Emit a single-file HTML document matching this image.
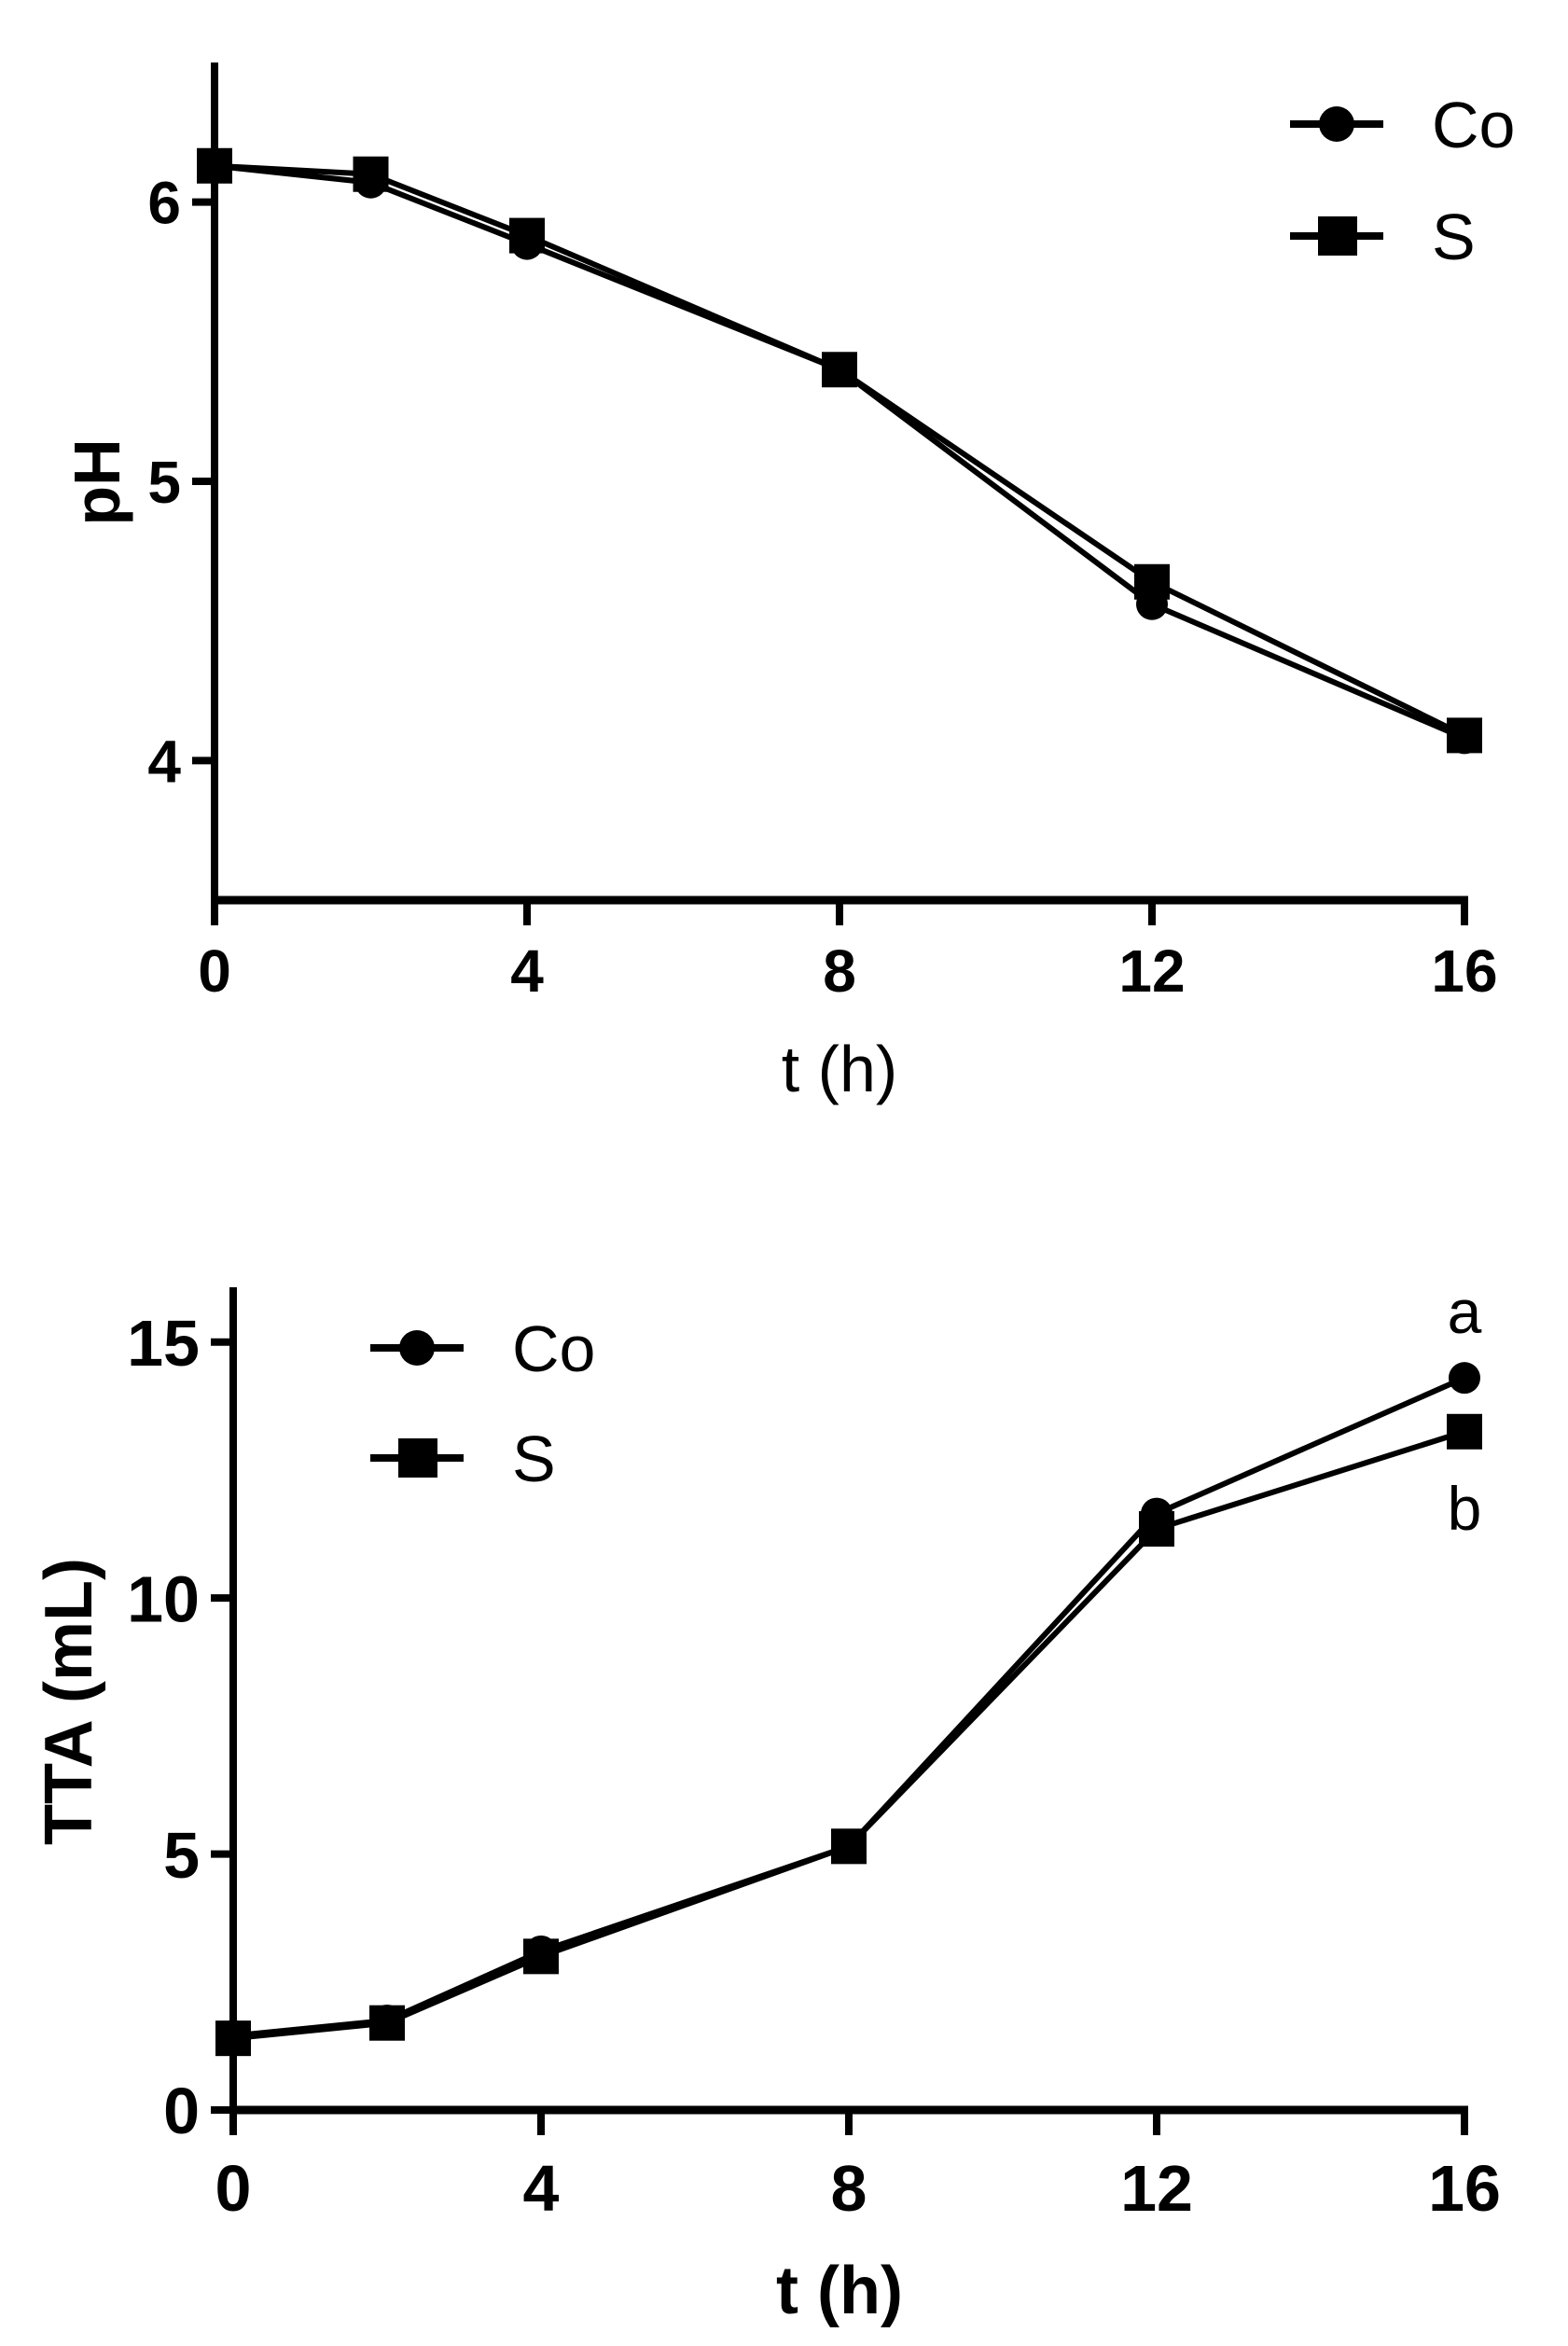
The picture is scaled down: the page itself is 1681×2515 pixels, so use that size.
<!DOCTYPE html>
<html><head><meta charset="utf-8"><style>
html,body{margin:0;padding:0;background:#fff;}
svg text{font-family:"Liberation Sans",Arial,sans-serif;fill:#000;}
</style></head><body>
<svg id="c" width="1681" height="2510" viewBox="0 0 1681 2510" xmlns="http://www.w3.org/2000/svg"></svg>
<script>
const hours = [0, 2, 4, 8, 12, 16];
const phCo = [6.13, 6.07, 5.85, 5.40, 4.56, 4.08];
const phS = [6.13, 6.10, 5.88, 5.40, 4.64, 4.09];
const phTicks = [4, 5, 6];
const ttaCo = [1.45, 1.75, 3.1, 5.15, 11.65, 14.3];
const ttaS = [1.4, 1.7, 3.0, 5.15, 11.35, 13.25];
const ttaTicks = [0, 5, 10, 15];
const xTicks = [0, 4, 8, 12, 16];

const NS = 'http://www.w3.org/2000/svg';
const svg = document.getElementById('c');
function mk(tag, attrs, parent, txt){
  const e = document.createElementNS(NS, tag);
  for (const k in attrs) e.setAttribute(k, attrs[k]);
  if (txt !== undefined) e.textContent = txt;
  (parent || svg).appendChild(e);
  return e;
}

function chart(cfg){
  const g = mk('g', {});
  
  
  const X = v => cfg.x0 + (v - 0) / 16 * (cfg.x1 - cfg.x0);
  const Y = v => cfg.yb - (v - cfg.ymin) / (cfg.ymax - cfg.ymin) * (cfg.yb - cfg.yt);
  // axes
  const ya = mk('line', {x1:cfg.x0, y1:cfg.yt, x2:cfg.x0, y2:cfg.yb+4, stroke:'#000','stroke-width':8}, g);
  
  
  const xa = mk('line', {x1:cfg.x0-4, y1:cfg.yb, x2:cfg.x1+4, y2:cfg.yb, stroke:'#000','stroke-width':9}, g);
  
  
  xTicks.forEach(t => {
    const l = mk('line', {x1:X(t), y1:cfg.yb, x2:X(t), y2:cfg.yb+27, stroke:'#000','stroke-width':8}, g);
    
    
    const tx = mk('text', {x:X(t), y:cfg.xlabY, 'text-anchor':'middle','font-size':cfg.tickFs,'font-weight':'bold'}, g, String(t));
    
    
  });
  cfg.yTicks.forEach(t => {
    const l = mk('line', {x1:cfg.x0-24, y1:Y(t), x2:cfg.x0, y2:Y(t), stroke:'#000','stroke-width':8}, g);
    
    
    const tx = mk('text', {x:cfg.x0-36, y:Y(t)+cfg.tickFs*0.36, 'text-anchor':'end','font-size':cfg.tickFs,'font-weight':'bold'}, g, String(t));
    
    
  });
  // series
  [[cfg.s2,'square','series-s'],[cfg.s1,'circle','series-co']].forEach(([vals, shape, nm]) => {
    const pts = hours.map((h,i) => X(h)+','+Y(vals[i])).join(' ');
    const pl = mk('polyline', {points:pts, fill:'none', stroke:'#000','stroke-width':6,'stroke-linejoin':'round'}, g);
    
    
    hours.forEach((h,i) => {
      let m;
      if (shape === 'circle') m = mk('circle', {cx:X(h), cy:Y(vals[i]), r:17, fill:'#000'}, g);
      else m = mk('rect', {x:X(h)-19, y:Y(vals[i])-19, width:38, height:38, fill:'#000'}, g);
      
      
    });
  });
  // labels
  const xl = mk('text', {x:cfg.xTitleX, y:cfg.xTitleY, 'text-anchor':'middle','font-size':cfg.titleFs,'font-weight':cfg.xTitleW}, g, 't (h)');
  
  
  const yl = mk('text', {x:0, y:0, 'text-anchor':'middle','font-size':cfg.titleFs,'font-weight':'bold', transform:`translate(${cfg.yTitleX},${cfg.yTitleY}) rotate(-90)`}, g, cfg.yTitle);
  
  
  // legend
  [['Co','circle',0],['S','square',1]].forEach(([lab, shape, i]) => {
    const ly = cfg.legY + i*cfg.legDy;
    const lg = mk('g', {}, g);
    
    
    mk('line', {x1:cfg.legX, y1:ly, x2:cfg.legX+100, y2:ly, stroke:'#000','stroke-width':8}, lg);
    if (shape === 'circle') mk('circle', {cx:cfg.legX+50, cy:ly, r:19, fill:'#000'}, lg);
    else mk('rect', {x:cfg.legX+30, y:ly-21, width:42, height:42, fill:'#000'}, lg);
    mk('text', {x:cfg.legX+152, y:ly+25, 'font-size':cfg.legFs}, lg, lab);
  });
  return {X, Y, g};
}

chart({name:'ph-chart', x0:230, x1:1570, yt:67, yb:965, ymin:3.5, ymax:6.5,
  yTicks:phTicks, s1:phCo, s2:phS, tickFs:64, xlabY:1063, titleFs:70,
  xTitleX:900, xTitleY:1170, xTitleW:'normal', yTitle:'pH', yTitleX:128, yTitleY:517,
  legX:1383, legY:133, legDy:120, legFs:70});

const b = chart({name:'tta-chart', x0:250, x1:1570, yt:1380, yb:2262, ymin:0, ymax:16.07,
  yTicks:ttaTicks, s1:ttaCo, s2:ttaS, tickFs:70, xlabY:2370, titleFs:72,
  xTitleX:900, xTitleY:2480, xTitleW:'bold', yTitle:'TTA (mL)', yTitleX:98, yTitleY:1824,
  legX:397, legY:1445, legDy:118, legFs:70});

const ta = mk('text', {x:b.X(16), y:b.Y(ttaCo[5])-48, 'text-anchor':'middle','font-size':66});
ta.textContent = 'a';


const tb = mk('text', {x:b.X(16), y:b.Y(ttaS[5])+105, 'text-anchor':'middle','font-size':66});
tb.textContent = 'b';


</script>
</body></html>
